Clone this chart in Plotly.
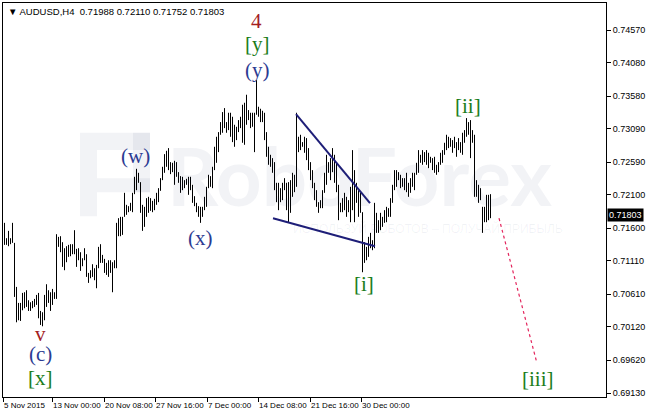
import plotly.graph_objects as go

# AUDUSD H4 bars (high / low), oldest first
high = [
    0.7168, 0.7145, 0.7156, 0.7145, 0.7168, 0.7138, 0.7072, 0.7048, 0.7048, 0.7063,
    0.7064, 0.7067, 0.7052, 0.7049, 0.7051, 0.7054, 0.7060, 0.7063, 0.7036, 0.7034,
    0.7060, 0.7076, 0.7067, 0.7064, 0.7069, 0.7064, 0.7151, 0.7147, 0.7148, 0.7139,
    0.7130, 0.7133, 0.7135, 0.7136, 0.7136, 0.7157, 0.7129, 0.7130, 0.7124, 0.7115,
    0.7130, 0.7121, 0.7093, 0.7097, 0.7106, 0.7100, 0.7105, 0.7132, 0.7136, 0.7120,
    0.7114, 0.7108, 0.7112, 0.7112, 0.7109, 0.7112, 0.7168, 0.7175, 0.7177, 0.7177,
    0.7213, 0.7195, 0.7193, 0.7198, 0.7213, 0.7237, 0.7249, 0.7243, 0.7229, 0.7195,
    0.7192, 0.7205, 0.7207, 0.7205, 0.7201, 0.7204, 0.7213, 0.7220, 0.7235, 0.7252,
    0.7271, 0.7276, 0.7280, 0.7259, 0.7258, 0.7261, 0.7259, 0.7244, 0.7238, 0.7237,
    0.7232, 0.7234, 0.7237, 0.7237, 0.7225, 0.7208, 0.7198, 0.7193, 0.7192, 0.7192,
    0.7207, 0.7222, 0.7240, 0.7238, 0.7252, 0.7282, 0.7297, 0.7304, 0.7319, 0.7334,
    0.7340, 0.7319, 0.7333, 0.7333, 0.7327, 0.7315, 0.7312, 0.7322, 0.7327, 0.7345,
    0.7348, 0.7360, 0.7337, 0.7333, 0.7333, 0.7333, 0.7382, 0.7342, 0.7339, 0.7336,
    0.7333, 0.7304, 0.7282, 0.7270, 0.7265, 0.7259, 0.7228, 0.7228, 0.7220, 0.7228,
    0.7235, 0.7228, 0.7229, 0.7232, 0.7243, 0.7240, 0.7333, 0.7297, 0.7300, 0.7289,
    0.7297, 0.7295, 0.7280, 0.7259, 0.7247, 0.7228, 0.7217, 0.7199, 0.7202, 0.7217,
    0.7243, 0.7270, 0.7259, 0.7265, 0.7280, 0.7270, 0.7259, 0.7225, 0.7198, 0.7205,
    0.7213, 0.7207, 0.7202, 0.7222, 0.7277, 0.7247, 0.7228, 0.7217, 0.7213, 0.7184,
    0.7139, 0.7132, 0.7147, 0.7153, 0.7142, 0.7198, 0.7183, 0.7172, 0.7183, 0.7177,
    0.7187, 0.7192, 0.7190, 0.7205, 0.7225, 0.7247, 0.7247, 0.7244, 0.7240, 0.7235,
    0.7235, 0.7243, 0.7228, 0.7235, 0.7243, 0.7243, 0.7258, 0.7277, 0.7270, 0.7277,
    0.7274, 0.7277, 0.7273, 0.7267, 0.7265, 0.7267, 0.7255, 0.7259, 0.7273, 0.7277,
    0.7288, 0.7300, 0.7297, 0.7295, 0.7292, 0.7297, 0.7289, 0.7295, 0.7289, 0.7303,
    0.7307, 0.7325, 0.7319, 0.7322, 0.7307, 0.7300, 0.7232, 0.7225, 0.7220, 0.7192,
    0.7192, 0.7210, 0.7210, 0.7211,
]
low = [
    0.7135, 0.7135, 0.7133, 0.7136, 0.7138, 0.7057, 0.7019, 0.7022, 0.7021, 0.7037,
    0.7040, 0.7042, 0.7036, 0.7036, 0.7040, 0.7042, 0.7045, 0.7025, 0.7015, 0.7013,
    0.7022, 0.7042, 0.7048, 0.7036, 0.7045, 0.7054, 0.7054, 0.7132, 0.7124, 0.7102,
    0.7097, 0.7109, 0.7117, 0.7118, 0.7121, 0.7121, 0.7102, 0.7112, 0.7096, 0.7103,
    0.7112, 0.7087, 0.7078, 0.7085, 0.7087, 0.7082, 0.7070, 0.7100, 0.7108, 0.7108,
    0.7093, 0.7090, 0.7087, 0.7093, 0.7064, 0.7100, 0.7100, 0.7148, 0.7148, 0.7150,
    0.7177, 0.7180, 0.7184, 0.7186, 0.7184, 0.7211, 0.7217, 0.7228, 0.7183, 0.7156,
    0.7162, 0.7177, 0.7183, 0.7186, 0.7184, 0.7187, 0.7195, 0.7199, 0.7216, 0.7232,
    0.7243, 0.7252, 0.7247, 0.7241, 0.7244, 0.7225, 0.7237, 0.7228, 0.7213, 0.7217,
    0.7220, 0.7225, 0.7210, 0.7217, 0.7198, 0.7193, 0.7184, 0.7177, 0.7168, 0.7177,
    0.7187, 0.7192, 0.7220, 0.7222, 0.7220, 0.7247, 0.7258, 0.7274, 0.7300, 0.7303,
    0.7310, 0.7303, 0.7307, 0.7297, 0.7289, 0.7282, 0.7292, 0.7304, 0.7310, 0.7288,
    0.7285, 0.7315, 0.7322, 0.7310, 0.7312, 0.7274, 0.7330, 0.7327, 0.7319, 0.7319,
    0.7292, 0.7267, 0.7255, 0.7252, 0.7243, 0.7217, 0.7199, 0.7187, 0.7199, 0.7202,
    0.7217, 0.7187, 0.7169, 0.7183, 0.7207, 0.7214, 0.7222, 0.7274, 0.7277, 0.7282,
    0.7273, 0.7262, 0.7247, 0.7232, 0.7220, 0.7202, 0.7192, 0.7183, 0.7190, 0.7190,
    0.7213, 0.7225, 0.7243, 0.7232, 0.7244, 0.7228, 0.7214, 0.7172, 0.7184, 0.7184,
    0.7187, 0.7177, 0.7184, 0.7169, 0.7187, 0.7169, 0.7198, 0.7177, 0.7183, 0.7094,
    0.7108, 0.7112, 0.7117, 0.7130, 0.7127, 0.7130, 0.7153, 0.7153, 0.7157, 0.7162,
    0.7168, 0.7169, 0.7177, 0.7177, 0.7198, 0.7217, 0.7222, 0.7232, 0.7220, 0.7222,
    0.7217, 0.7214, 0.7207, 0.7213, 0.7222, 0.7217, 0.7240, 0.7243, 0.7258, 0.7255,
    0.7259, 0.7255, 0.7250, 0.7258, 0.7247, 0.7243, 0.7240, 0.7244, 0.7255, 0.7258,
    0.7270, 0.7277, 0.7280, 0.7282, 0.7273, 0.7280, 0.7267, 0.7277, 0.7273, 0.7270,
    0.7288, 0.7297, 0.7300, 0.7265, 0.7288, 0.7207, 0.7207, 0.7198, 0.7202, 0.7153,
    0.7169, 0.7169, 0.7172, 0.7175,
]

time_labels = ["5 Nov 2015", "13 Nov 00:00", "20 Nov 08:00", "27 Nov 16:00",
               "7 Dec 00:00", "14 Dec 08:00", "21 Dec 16:00", "30 Dec 00:00"]
time_label_bars = [-0.75, 23.75, 49.75, 75.25, 101.25, 126.75, 152.75, 178.25]

price_ticks = [0.74570, 0.74080, 0.73580, 0.73090, 0.72590, 0.72100,
               0.71600, 0.71110, 0.70610, 0.70120, 0.69620, 0.69130]
last_price = 0.71803
header = "▼ AUDUSD,H4\u00a0\u00a00.71988 0.72110 0.71752 0.71803"

# wave labels: text, bar position, price, colour
RED = "#a3201f"
GREEN = "#1b7d1b"
BLUE = "#2c3b92"
wave_labels = [
    ("4", 125.75, 0.7471, RED),
    ("[y]", 126.25, 0.7436, GREEN),
    ("(y)", 126.25, 0.7397, BLUE),
    ("(w)", 65.25, 0.7268, BLUE),
    ("(x)", 97.75, 0.7145, BLUE),
    ("v", 17.75, 0.7002, RED),
    ("(c)", 17.75, 0.6971, BLUE),
    ("[x]", 17.75, 0.6935, GREEN),
    ("[ii]", 231.75, 0.7343, GREEN),
    ("[i]", 179.75, 0.7076, GREEN),
    ("[iii]", 266.75, 0.6934, GREEN),
]

# vertical high-low lines, one per bar
xs, ys = [], []
for i, (h, l) in enumerate(zip(high, low)):
    xs += [i, i, None]
    ys += [l, h, None]

fig = go.Figure()
fig.add_trace(go.Scatter(x=xs, y=ys, mode="lines", line=dict(color="black", width=1),
                         hoverinfo="skip", showlegend=False))

# faint watermark (semi transparent so the bars stay black on top)
wm = "rgba(30,50,110,0.06)"
for x0, x1, y0, y1 in [(37.75, 46.25, 0.7178, 0.7303), (46.25, 72.75, 0.7277, 0.7303),
                       (64.25, 72.75, 0.7214, 0.7303), (46.25, 72.75, 0.7214, 0.7235)]:
    fig.add_shape(type="rect", x0=x0, x1=x1, y0=y0, y1=y1, fillcolor=wm,
                  line=dict(width=0), layer="below")
fig.add_annotation(x=177.25, y=0.7240, text="RoboForex", showarrow=False,
                   font=dict(family="Lato", size=80, color=wm, weight="bold"))
fig.add_annotation(x=211.75, y=0.7159, text="ИСПОЛЬЗУЙ РОБОТОВ – ПОЛУЧАЙ ПРИБЫЛЬ",
                   showarrow=False, font=dict(family="Liberation Sans", size=12, color=wm))

# wave structure lines
fig.add_shape(type="line", x0=145.75, y0=0.7331, x1=182.75, y1=0.71975,
              line=dict(color="#1e1e78", width=2))
fig.add_shape(type="line", x0=134.25, y0=0.7175, x1=185.25, y1=0.7133,
              line=dict(color="#1e1e78", width=2))
fig.add_shape(type="line", x0=247.25, y0=0.7175, x1=266.25, y1=0.69575,
              line=dict(color="#e3245c", width=1.2, dash="dot"))

for text, bx, py, col in wave_labels:
    fig.add_annotation(x=bx, y=py, text=text, showarrow=False,
                       font=dict(family="Liberation Serif", size=21, color=col))

fig.add_annotation(x=0, y=1, xref="paper", yref="paper", xanchor="left", yanchor="top",
                   xshift=3, yshift=-1, text=header, showarrow=False,
                   font=dict(family="Liberation Sans", size=9.5, color="black"))

fig.add_annotation(x=1, y=last_price, xref="paper", yref="y", xanchor="left",
                   xshift=1, text=f"{last_price:.5f}", showarrow=False, bgcolor="black",
                   borderpad=1, font=dict(family="Liberation Sans", size=9, color="white"))

fig.update_xaxes(range=[-0.75, 300.75], showgrid=False, zeroline=False, automargin=False,
                 showline=True, mirror=True, linecolor="black", linewidth=1,
                 tickmode="array", tickvals=time_label_bars, ticktext=time_labels,
                 ticks="outside", ticklen=4, tickcolor="black", tickangle=0,
                 ticklabelposition="outside right",
                 tickfont=dict(family="Liberation Sans", size=8, color="black"))
fig.update_yaxes(range=[0.69070, 0.74975], side="right", showgrid=False, zeroline=False,
                 automargin=False,
                 showline=True, mirror=True, linecolor="black", linewidth=1,
                 tickmode="array", tickvals=price_ticks,
                 ticktext=[f"{v:.5f}" for v in price_ticks],
                 ticks="outside", ticklen=4, tickcolor="black",
                 tickfont=dict(family="Liberation Sans", size=9, color="black"))

fig.update_layout(width=649, height=412, autosize=False,
                  margin=dict(l=3, r=43, t=3, b=15),
                  plot_bgcolor="white", paper_bgcolor="white",
                  showlegend=False, hovermode=False)

# page body has a default 8px margin; drop it so the chart fills the window
fig.write_html("out.html", config={"displayModeBar": False},
               post_script="document.body.style.margin='0';document.body.style.overflow='hidden';")
